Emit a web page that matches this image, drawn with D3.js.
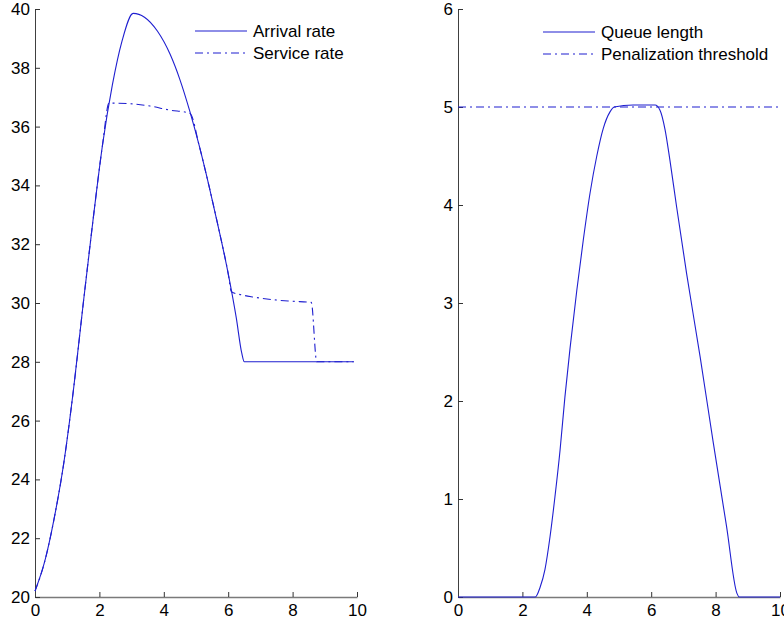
<!DOCTYPE html>
<html>
<head>
<meta charset="utf-8">
<script src="https://cdn.jsdelivr.net/npm/d3@7"></script>
<style>
  body { margin: 0; background: #fff; }
  svg { display: block; font-family: "Liberation Sans", Arial, sans-serif; }
</style>
</head>
<body>
<div id="chart"></div>
<script>
// dimensions de la fenêtre
const width = 784;
const height = 625;

// --- données ---
const xTicks = [0, 2, 4, 6, 8, 10];
const rateTicks = [20, 22, 24, 26, 28, 30, 32, 34, 36, 38, 40];
const queueTicks = [0, 1, 2, 3, 4, 5, 6];

const arrivalT    = [0, 0.3, 0.6, 0.9, 1.2, 1.5, 1.8, 2.1, 2.4, 2.7, 3.05, 3.4, 3.8, 4.2, 4.5, 4.8, 5.1, 5.4, 5.7, 6.0, 6.25, 6.42, 6.5, 9.9];
const arrivalRate = [20.2, 21.2, 22.7, 24.6, 27.1, 30.0, 32.8, 35.4, 37.4, 38.9, 39.85, 39.72, 39.25, 38.45, 37.6, 36.55, 35.35, 34.0, 32.55, 31.0, 29.5, 28.3, 28.0, 28.0];

const serviceT    = [0, 0.3, 0.6, 0.9, 1.2, 1.5, 1.8, 2.1, 2.3, 2.95, 3.57, 4.19, 4.76, 4.83, 5.1, 5.4, 5.7, 6.0, 6.1, 6.4, 6.8, 7.5, 8.0, 8.58, 8.75, 9.9];
const serviceRate = [20.2, 21.2, 22.7, 24.6, 27.1, 30.0, 32.8, 35.4, 36.8, 36.78, 36.7, 36.56, 36.47, 36.43, 35.35, 34.0, 32.55, 31.0, 30.38, 30.28, 30.2, 30.1, 30.06, 30.02, 28.0, 28.0];

const queueT      = [0, 2.4, 2.55, 2.7, 2.86, 3.01, 3.17, 3.32, 3.48, 3.69, 3.89, 4.1, 4.31, 4.51, 4.72, 4.85, 5.44, 6.12, 6.27, 6.43, 6.58, 6.79, 7.1, 7.52, 7.93, 8.34, 8.66, 8.74, 10];
const queueLength = [0, 0, 0.1, 0.28, 0.62, 1.02, 1.5, 2.04, 2.54, 3.13, 3.64, 4.12, 4.5, 4.78, 4.95, 5.0, 5.02, 5.02, 4.97, 4.77, 4.46, 3.98, 3.30, 2.45, 1.57, 0.72, 0.04, 0, 0];

const thresholdT = [0, 10];
const thresholdValue = [5, 5];

const lineColor = "#1f1fd0";
const dashDot = "8,4,2,4";

const svg = d3.select("#chart")
    .append("svg")
    .attr("width", width)
    .attr("height", height);

svg.append("rect").attr("width", width).attr("height", height).attr("fill", "#fff");

// --- fonction générique pour un sous-graphe ---
function drawPanel(opts) {
    const x = d3.scaleLinear().domain([0, 10]).range([opts.left, opts.right]);
    const y = d3.scaleLinear().domain(opts.yDomain).range([597, 9]);

    const g = svg.append("g");

    // axe x (ticks vers l'intérieur)
    const gx = g.append("g")
        .attr("transform", `translate(0,${y.range()[0]})`)
        .call(d3.axisBottom(x).tickValues(xTicks).tickFormat(d3.format("d"))
            .tickSizeInner(-5).tickSizeOuter(0).tickPadding(7));
    gx.select(".domain").attr("stroke", "#7a7a7a").attr("stroke-width", 1.5);

    // axe y
    const gy = g.append("g")
        .attr("transform", `translate(${opts.left},0)`)
        .call(d3.axisLeft(y).tickValues(opts.yTicks).tickFormat(d3.format("d"))
            .tickSizeInner(-5).tickSizeOuter(0).tickPadding(5));
    gy.select(".domain").attr("stroke", "#404040");

    g.selectAll(".tick line").attr("stroke", "#333");
    g.selectAll(".tick text")
        .attr("fill", "#000")
        .attr("font-size", "17px")
        .attr("font-family", "Liberation Sans, Arial, sans-serif");

    const line = d3.line()
        .x(d => x(d[0]))
        .y(d => y(d[1]))
        .curve(d3.curveMonotoneX);

    opts.series.forEach(s => {
        g.append("path")
            .datum(d3.zip(s.t, s.v))
            .attr("d", line)
            .attr("fill", "none")
            .attr("stroke", lineColor)
            .attr("stroke-width", 1.1)
            .attr("stroke-dasharray", s.dash ? dashDot : null);
    });

    // légende
    const leg = g.append("g");
    opts.series.forEach((s, i) => {
        const ly = opts.legendY + i * 22;
        leg.append("line")
            .attr("x1", opts.legendX).attr("x2", opts.legendX + 52)
            .attr("y1", ly).attr("y2", ly)
            .attr("stroke", lineColor)
            .attr("stroke-width", 1.1)
            .attr("stroke-dasharray", s.dash ? dashDot : null);
        leg.append("text")
            .attr("x", opts.legendX + 58)
            .attr("y", ly + 6)
            .attr("font-size", "17px")
            .attr("fill", "#000")
            .text(s.name);
    });
}

drawPanel({
    left: 35, right: 357,
    yDomain: [20, 40], yTicks: rateTicks,
    legendX: 195, legendY: 31,
    series: [
        { name: "Arrival rate", t: arrivalT, v: arrivalRate, dash: false },
        { name: "Service rate", t: serviceT, v: serviceRate, dash: true }
    ]
});

drawPanel({
    left: 458, right: 780,
    yDomain: [0, 6], yTicks: queueTicks,
    legendX: 543, legendY: 32,
    series: [
        { name: "Queue length", t: queueT, v: queueLength, dash: false },
        { name: "Penalization threshold", t: thresholdT, v: thresholdValue, dash: true }
    ]
});
</script>
</body>
</html>
